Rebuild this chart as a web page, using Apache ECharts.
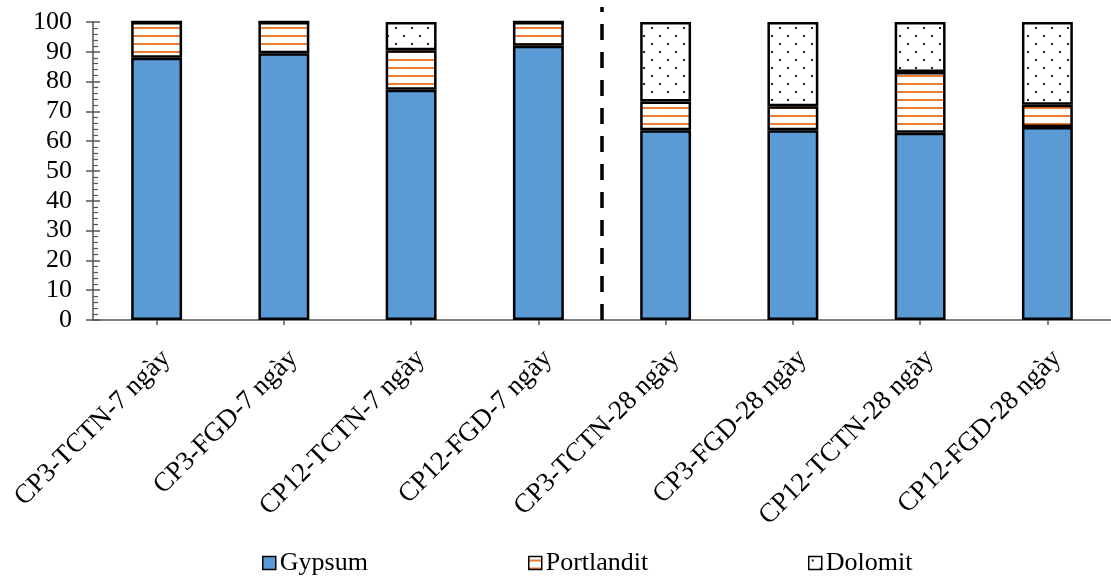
<!DOCTYPE html>
<html>
<head>
<meta charset="utf-8">
<script src="https://cdn.jsdelivr.net/npm/echarts@6/dist/echarts.min.js"></script>
<style>
  html, body { margin: 0; padding: 0; background: #fff; }
  #chart { width: 1111px; height: 577px; }
</style>
</head>
<body>
<div id="chart"></div>
<script>
// Phase composition (%) of each mix at 7 and 28 days
const categories = [
  'CP3-TCTN-7 ngày', 'CP3-FGD-7 ngày', 'CP12-TCTN-7 ngày', 'CP12-FGD-7 ngày',
  'CP3-TCTN-28 ngày', 'CP3-FGD-28 ngày', 'CP12-TCTN-28 ngày', 'CP12-FGD-28 ngày'
];
const gypsum     = [88, 89.5, 77.3, 92, 63.7, 63.7, 62.8, 64.8];
const portlandit = [12, 10.5, 13.2, 8, 9.6, 8, 20.4, 7.4];
const dolomit    = [0, 0, 9.5, 0, 26.7, 28.3, 16.8, 27.8];
const yTicks = { min: 0, max: 100, interval: 10 };
// separator between the 7-day and 28-day groups (category boundary index)
const separatorAt = 4;

const FONT = '"Liberation Serif", "Times New Roman", serif';

// white tile with horizontal orange stripes
function stripePattern() {
  const c = document.createElement('canvas');
  c.width = 8; c.height = 8;
  const g = c.getContext('2d');
  g.fillStyle = '#fff'; g.fillRect(0, 0, 8, 8);
  g.fillStyle = '#ED7D31'; g.fillRect(0, 3, 8, 2);
  return c;
}
// white tile with a staggered grid of small dots
function dotPattern() {
  const c = document.createElement('canvas');
  c.width = 16; c.height = 16;
  const g = c.getContext('2d');
  g.fillStyle = '#fff'; g.fillRect(0, 0, 16, 16);
  g.fillStyle = '#222';
  g.fillRect(3, 3, 2, 2);
  g.fillRect(11, 11, 2, 2);
  return c;
}

const chart = echarts.init(document.getElementById('chart'), null, { renderer: 'canvas' });

const barBase = {
  type: 'bar',
  stack: 'total',
  barWidth: '40%',
  xAxisIndex: 0,
  yAxisIndex: 0
};

const legendBase = {
  top: 550,
  padding: 0,
  itemWidth: 13,
  itemHeight: 13,
  icon: 'rect',
  itemStyle: { borderWidth: 1.5, borderColor: '#000' },
  textStyle: { fontFamily: FONT, fontSize: 26, color: '#000', padding: [0, 0, 0, -1] },
  selectedMode: false
};

chart.setOption({
  animation: false,
  backgroundColor: '#fff',
  grid: { left: 93, right: -5, top: 22, bottom: 257, containLabel: false },
  legend: [
    Object.assign({ data: ['Gypsum'], left: 262 }, legendBase),
    Object.assign({ data: ['Portlandit'], left: 528 }, legendBase),
    Object.assign({ data: ['Dolomit'], left: 808 }, legendBase)
  ],
  xAxis: [
    {
      type: 'category',
      data: categories,
      axisLine: { lineStyle: { color: '#555', width: 1.5 } },
      axisTick: { show: true, alignWithLabel: true, length: 5, lineStyle: { color: '#555', width: 1.5 } },
      axisLabel: {
        rotate: 45, margin: 25, interval: 0,
        verticalAlign: 'top',
        fontFamily: FONT, fontSize: 27, color: '#000'
      }
    },
    { type: 'value', min: 0, max: categories.length, show: false }
  ],
  yAxis: [
    {
      type: 'value',
      min: yTicks.min, max: yTicks.max, interval: yTicks.interval,
      axisLine: { show: true, lineStyle: { color: '#555', width: 1.5 } },
      axisTick: { show: true, length: 7, lineStyle: { color: '#555', width: 1.5 } },
      axisLabel: { margin: 21, fontFamily: FONT, fontSize: 26, color: '#000' },
      splitLine: { show: false }
    },
    {
      // inner major ticks and minor ticks on the same scale
      type: 'value',
      min: yTicks.min, max: yTicks.max, interval: yTicks.interval,
      position: 'left',
      axisLine: { show: false },
      axisLabel: { show: false },
      axisTick: { show: true, inside: true, length: 7, lineStyle: { color: '#555', width: 1.5 } },
      minorTick: { show: true, splitNumber: 5, length: 5, lineStyle: { color: '#555', width: 1.2 } },
      splitLine: { show: false }
    }
  ],
  series: [
    Object.assign({}, barBase, {
      name: 'Gypsum', data: gypsum,
      itemStyle: { color: '#5B9BD5', borderColor: '#000', borderWidth: 2.5 }
    }),
    Object.assign({}, barBase, {
      name: 'Portlandit', data: portlandit,
      itemStyle: { color: { image: stripePattern(), repeat: 'repeat' }, borderColor: '#000', borderWidth: 2.5 }
    }),
    Object.assign({}, barBase, {
      name: 'Dolomit', data: dolomit,
      itemStyle: { color: { image: dotPattern(), repeat: 'repeat' }, borderColor: '#000', borderWidth: 2.5 }
    }),
    {
      name: 'separator',
      type: 'line',
      xAxisIndex: 1,
      yAxisIndex: 0,
      data: [[separatorAt, 0], [separatorAt, 105]],
      clip: false,
      symbol: 'none',
      silent: true,
      lineStyle: { color: '#000', width: 3.5, type: [16, 12] },
      z: 5
    }
  ]
});
</script>
</body>
</html>
